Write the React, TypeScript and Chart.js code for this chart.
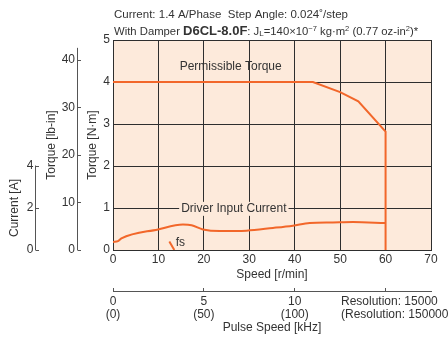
import React, { useEffect, useRef } from "react";
import { Chart, registerables } from "chart.js";

Chart.register(...registerables);

// ---------- data ----------
const speedTicks = [0, 10, 20, 30, 40, 50, 60, 70];
const torqueTicksNm = [0, 1, 2, 3, 4, 5];
const torqueTicksLb = [0, 10, 20, 30, 40];
const currentTicks = [0, 2, 4];
const pulseTicks = [0, 5, 10, 15];
const pulseLabels = [["0", "(0)"], ["5", "(50)"], ["10", "(100)"], ["", ""]];

// Permissible torque [N·m] vs speed [r/min]
const torqueSpeed = [0, 44, 50, 54, 60, 60];
const torqueValues = [4.0, 4.0, 3.76, 3.54, 2.82, 0];

// Driver input current [A] vs speed [r/min]
const currentSpeed = [0, 1.1, 1.85, 9.9, 15.4, 17.3, 19.8, 23.5, 29.4, 35.2, 39.6, 43.3, 48.4, 52.8, 60];
const currentValues = [0.38, 0.42, 0.55, 0.98, 1.21, 1.18, 0.98, 0.9, 0.92, 1.05, 1.16, 1.28, 1.31, 1.33, 1.28];

// fs marker
const fsSpeed = [12.4, 13.5];
const fsTorque = [0.2, 0];

// unit relations
const NM_MAX = 5;
const LB_PER_NM = 8.8507;
const A_PER_NM = 2; // 4 A aligns with 2 N·m
const KHZ_PER_RPM = 0.25; // 15 kHz <-> 60 r/min
const SPEED_MAX = 70;

const FONT = '"Liberation Sans", Arial, sans-serif';
const TXT = "#333333";
const GRID = "#2e2e2e";
const AXIS = "#555555";
const ORANGE = "#f2672a";
const BG = "#fdeadb";

const FS = 12;
const f12 = { family: FONT, size: FS };

const setTicks = (arr: number[]) => (s: any) => {
  s.ticks = arr.map((v) => ({ value: v }));
};

const decor = {
  id: "decor",
  beforeDraw(chart: any) {
    const { ctx, chartArea: a } = chart;
    ctx.save();
    ctx.fillStyle = BG;
    ctx.fillRect(a.left, a.top, a.right - a.left, a.bottom - a.top);
    ctx.restore();
  },
  afterDatasetsDraw(chart: any) {
    const { ctx } = chart;
    const sx = chart.scales.x;
    const sy = chart.scales.y;
    ctx.save();
    ctx.font = `${FS}px ${FONT}`;
    ctx.fillStyle = TXT;
    ctx.textBaseline = "middle";
    ctx.textAlign = "center";
    ctx.fillText("Permissible Torque", sx.getPixelForValue(25.9), sy.getPixelForValue(4.36));

    const t = "Driver Input Current";
    const cx = sx.getPixelForValue(26.6);
    const cy = sy.getPixelForValue(0.98);
    const w = ctx.measureText(t).width;
    ctx.fillStyle = BG;
    ctx.fillRect(cx - w / 2 - 2, cy - 7, w + 4, 14);
    ctx.fillStyle = TXT;
    ctx.fillText(t, cx, cy);

    ctx.textAlign = "left";
    ctx.fillText("fs", sx.getPixelForValue(13.8), sy.getPixelForValue(0.17));
    ctx.restore();
  },
  afterDraw(chart: any) {
    const { ctx } = chart;
    const yLb = chart.scales.yLb;
    const yCur = chart.scales.yCur;
    ctx.save();
    // secondary axis lines
    ctx.strokeStyle = AXIS;
    ctx.lineWidth = 1;
    ctx.beginPath();
    const xl = Math.round(yLb.right) - 0.5;
    ctx.moveTo(xl, yLb.getPixelForValue(42.6));
    ctx.lineTo(xl, yLb.getPixelForValue(0) + 0.5);
    const xc = Math.round(yCur.right) - 0.5;
    ctx.moveTo(xc, yCur.getPixelForValue(4) - 0.5);
    ctx.lineTo(xc, yCur.getPixelForValue(0) + 0.5);
    ctx.stroke();

    // current axis title
    ctx.fillStyle = TXT;
    ctx.font = `${FS}px ${FONT}`;
    ctx.textAlign = "center";
    ctx.textBaseline = "middle";
    ctx.save();
    ctx.translate(15, yCur.getPixelForValue(2));
    ctx.rotate(-Math.PI / 2);
    ctx.fillText("Current [A]", 0, 0);
    ctx.restore();

    // resolution note
    ctx.textAlign = "left";
    ctx.fillText("Resolution: 15000", 341, 302);
    ctx.fillText("(Resolution: 150000)", 341, 314.5);

    // header
    ctx.textBaseline = "alphabetic";
    ctx.font = `11.5px ${FONT}`;
    ctx.fillText("Current: 1.4 A/Phase  Step Angle: 0.024˚/step", 114, 18);
    const segs: [string, string, number][] = [
      ["With Damper ", `11.3px ${FONT}`, 0],
      ["D6CL-8.0F", `bold 13px ${FONT}`, 0],
      [": J", `11.3px ${FONT}`, 0],
      ["L", `8px ${FONT}`, 1],
      ["=140×10", `11.3px ${FONT}`, 0],
      ["−7", `7.5px ${FONT}`, -4],
      [" kg·m", `11.3px ${FONT}`, 0],
      ["2", `7.5px ${FONT}`, -4],
      [" (0.77 oz-in", `11.3px ${FONT}`, 0],
      ["2", `7.5px ${FONT}`, -4],
      [")*", `11.3px ${FONT}`, 0],
    ];
    let x = 114;
    for (const [text, font, dy] of segs) {
      ctx.font = font;
      ctx.fillText(text, x, 34.5 + dy);
      x += ctx.measureText(text).width;
    }
    ctx.restore();
  },
};

export default function App() {
  const ref = useRef<HTMLCanvasElement>(null);
  useEffect(() => {
    const canvas = ref.current!;
    const chart = new Chart(canvas, {
      type: "line",
      data: {
        datasets: [
          {
            data: torqueSpeed.map((s, i) => ({ x: s, y: torqueValues[i] })),
            borderColor: ORANGE,
            borderWidth: 2,
            pointRadius: 0,
            tension: 0,
            xAxisID: "x",
            yAxisID: "y",
          },
          {
            data: currentSpeed.map((s, i) => ({ x: s, y: currentValues[i] })),
            borderColor: ORANGE,
            borderWidth: 2,
            pointRadius: 0,
            cubicInterpolationMode: "monotone",
            xAxisID: "x",
            yAxisID: "yCur",
          },
          {
            data: fsSpeed.map((s, i) => ({ x: s, y: fsTorque[i] })),
            borderColor: ORANGE,
            borderWidth: 2,
            pointRadius: 0,
            xAxisID: "x",
            yAxisID: "y",
          },
        ],
      } as any,
      options: {
        responsive: false,
        animation: false,
        devicePixelRatio: 1,
        layout: { padding: { top: 40, right: 17, left: 0, bottom: 0 } },
        plugins: {
          legend: { display: false },
          tooltip: { enabled: false },
          title: { display: false },
        },
        scales: {
          x: {
            type: "linear",
            position: "bottom",
            min: 0,
            max: SPEED_MAX,
            afterBuildTicks: setTicks(speedTicks),
            ticks: { font: f12, color: TXT, padding: 2.3, maxRotation: 0, autoSkip: false },
            grid: { color: GRID, drawTicks: false, lineWidth: 1 },
            border: { display: true, color: GRID },
            title: {
              display: true,
              text: "Speed [r/min]",
              font: f12,
              color: TXT,
              padding: { top: 0, bottom: 8.8 },
            },
            afterFit: (s: any) => {
              s.height = 41;
            },
          },
          x2: {
            type: "linear",
            position: "bottom",
            min: 0,
            max: SPEED_MAX * KHZ_PER_RPM,
            afterBuildTicks: setTicks(pulseTicks),
            ticks: {
              font: { family: FONT, size: FS, lineHeight: 1.04 },
              color: TXT,
              padding: 7.75,
              maxRotation: 0,
              autoSkip: false,
              callback: (v: any) => pulseLabels[pulseTicks.indexOf(Number(v))] ?? "",
            },
            grid: { drawOnChartArea: false, drawTicks: true, tickLength: -3, color: AXIS },
            border: { display: true, color: AXIS },
            title: {
              display: true,
              text: "Pulse Speed [kHz]",
              font: f12,
              color: TXT,
              padding: { top: 0, bottom: 5.8 },
            },
            afterFit: (s: any) => {
              s.height = 50;
            },
          },
          y: {
            type: "linear",
            position: "left",
            min: 0,
            max: NM_MAX,
            afterBuildTicks: setTicks(torqueTicksNm),
            ticks: { font: f12, color: TXT, padding: 3 },
            grid: { color: GRID, drawTicks: false, lineWidth: 1 },
            border: { display: true, color: GRID },
            title: {
              display: true,
              text: "Torque [N·m]",
              font: f12,
              color: TXT,
              padding: { top: 7.8, bottom: 0 },
            },
            afterFit: (s: any) => {
              s.width = 35;
            },
          },
          yLb: {
            type: "linear",
            position: "left",
            min: 0,
            max: NM_MAX * LB_PER_NM,
            afterBuildTicks: setTicks(torqueTicksLb),
            ticks: { font: f12, color: TXT, padding: 6 },
            grid: { drawOnChartArea: false, drawTicks: true, tickLength: -3, color: AXIS },
            border: { display: false },
            title: {
              display: true,
              text: "Torque [lb-in]",
              font: f12,
              color: TXT,
              padding: { top: 8.8, bottom: 0 },
            },
            afterFit: (s: any) => {
              s.width = 42;
            },
          },
          yCur: {
            type: "linear",
            position: "left",
            min: 0,
            max: NM_MAX * A_PER_NM,
            afterBuildTicks: setTicks(currentTicks),
            ticks: { font: f12, color: TXT, padding: 5.7 },
            grid: { drawOnChartArea: false, drawTicks: true, tickLength: -3, color: AXIS },
            border: { display: false },
            afterFit: (s: any) => {
              s.width = 36;
            },
          },
        },
      } as any,
      plugins: [decor],
    });
    return () => chart.destroy();
  }, []);
  return (
    <div style={{ position: "fixed", left: 0, top: 0, width: 448, height: 341, background: "#fff" }}>
      <canvas ref={ref} width={448} height={341} style={{ display: "block", width: 448, height: 341 }} />
    </div>
  );
}
